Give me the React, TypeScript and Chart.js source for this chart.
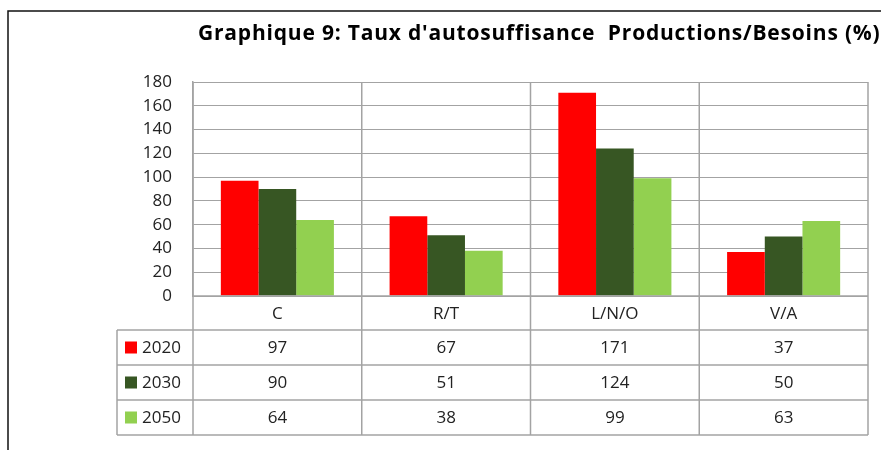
import React, { useEffect, useRef } from "react";
import { Chart, registerables } from "chart.js";

Chart.register(...registerables);

const TITLE = "Graphique 9: Taux d'autosuffisance  Productions/Besoins (%)";
const categories = ["C", "R/T", "L/N/O", "V/A"];
const seriesNames = ["2020", "2030", "2050"];
const values2020 = [97, 67, 171, 37];
const values2030 = [90, 51, 124, 50];
const values2050 = [64, 38, 99, 63];
const colors = ["#FF0000", "#375623", "#92D050"];
const yMax = 180;
const yStep = 20;

const FONT = "'Open Sans', 'Noto Sans', sans-serif";
const LINE = "#a3a3a3";

const tablePlugin = {
  id: "dataTable",
  afterDraw(chart: any) {
    const ctx = chart.ctx;
    const area = chart.chartArea;
    const xs = chart.scales.x;
    const n = categories.length;
    const half = (xs.getPixelForValue(1) - xs.getPixelForValue(0)) / 2;
    const headerH = 34;
    const rowH = 35;
    const legendLeft = 117;
    const top = area.bottom;
    const bottom = top + headerH + rowH * seriesNames.length;
    const allSeries = [values2020, values2030, values2050];

    ctx.save();
    ctx.strokeStyle = LINE;
    ctx.lineWidth = 1.5;
    for (let i = 0; i <= n; i++) {
      const x = i < n ? xs.getPixelForValue(i) - half : xs.getPixelForValue(n - 1) + half;
      ctx.beginPath();
      ctx.moveTo(x, area.top);
      ctx.lineTo(x, bottom);
      ctx.stroke();
    }
    ctx.beginPath();
    ctx.moveTo(area.left, top);
    ctx.lineTo(area.right, top);
    ctx.stroke();
    ctx.beginPath();
    ctx.moveTo(legendLeft, top + headerH);
    ctx.lineTo(legendLeft, bottom);
    ctx.stroke();
    for (let r = 0; r <= seriesNames.length; r++) {
      const y = top + headerH + r * rowH;
      ctx.beginPath();
      ctx.moveTo(legendLeft, y);
      ctx.lineTo(area.right, y);
      ctx.stroke();
    }

    ctx.fillStyle = "#222";
    ctx.font = `17px ${FONT}`;
    ctx.textAlign = "center";
    ctx.textBaseline = "middle";
    categories.forEach((c, i) => {
      ctx.fillText(c, xs.getPixelForValue(i), top + headerH / 2 + 1);
    });
    allSeries.forEach((vals, r) => {
      const yc = top + headerH + r * rowH + rowH / 2 + 1;
      vals.forEach((v, i) => {
        ctx.fillStyle = "#222";
        ctx.fillText(String(v), xs.getPixelForValue(i), yc);
      });
      ctx.fillStyle = colors[r];
      ctx.fillRect(125, yc - 7, 12, 12);
      ctx.fillStyle = "#222";
      ctx.textAlign = "left";
      ctx.fillText(seriesNames[r], 142, yc);
      ctx.textAlign = "center";
    });

    ctx.fillStyle = "#000";
    ctx.font = `bold 21px 'Open Sans', sans-serif`;
    ctx.textAlign = "left";
    ctx.textBaseline = "alphabetic";
    try {
      (ctx as any).letterSpacing = "0.8px";
    } catch (e) {}
    ctx.fillText(TITLE, 198, 40);
    try {
      (ctx as any).letterSpacing = "0px";
    } catch (e) {}

    ctx.strokeStyle = "#111";
    ctx.lineWidth = 1.5;
    ctx.beginPath();
    ctx.moveTo(8, 450);
    ctx.lineTo(8, 11);
    ctx.lineTo(881, 11);
    ctx.stroke();
    ctx.restore();
  },
};

export default function App() {
  const ref = useRef<HTMLCanvasElement>(null);
  useEffect(() => {
    if (!ref.current) return;
    const chart = new Chart(ref.current, {
      type: "bar",
      data: {
        labels: categories,
        datasets: [values2020, values2030, values2050].map((d, i) => ({
          label: seriesNames[i],
          data: d,
          backgroundColor: colors[i],
          borderWidth: 0,
          barPercentage: 1,
          categoryPercentage: 0.67,
        })),
      },
      options: {
        responsive: false,
        animation: false,
        devicePixelRatio: 1,
        layout: { padding: { left: 0, right: 13, top: 82, bottom: 154 } },
        plugins: { legend: { display: false }, title: { display: false }, tooltip: { enabled: false } },
        scales: {
          x: { display: false },
          y: {
            min: 0,
            max: yMax,
            ticks: { stepSize: yStep, padding: 21, color: "#222", font: { family: FONT, size: 17 } },
            grid: { color: LINE, lineWidth: 1, drawTicks: false },
            border: { display: true, color: LINE, width: 1.5 },
            afterFit: (scale: any) => {
              scale.width = 193;
            },
          },
        },
      },
      plugins: [tablePlugin],
    });
    return () => chart.destroy();
  }, []);
  return (
    <div style={{ position: "fixed", left: 0, top: 0, width: 881, height: 450, background: "#fff" }}>
      <canvas ref={ref} width={881} height={450} style={{ width: 881, height: 450 }} />
    </div>
  );
}
